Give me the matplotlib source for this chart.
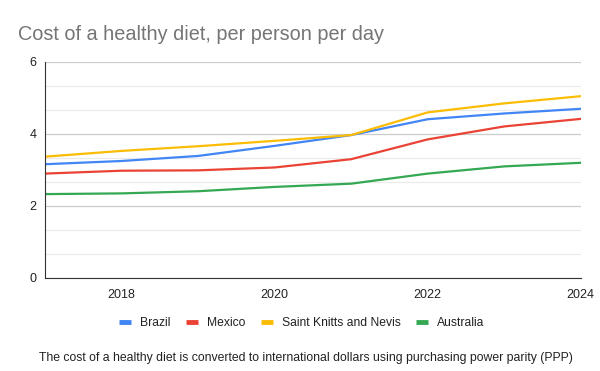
import numpy as np
import matplotlib.pyplot as plt
from matplotlib.ticker import MultipleLocator

plt.rcParams['font.family'] = ['Liberation Sans', 'DejaVu Sans']

# Data
years = [2017, 2018, 2019, 2020, 2021, 2022, 2023, 2024]
brazil = [3.16, 3.25, 3.39, 3.67, 3.97, 4.41, 4.57, 4.70]
mexico = [2.90, 2.98, 2.99, 3.07, 3.30, 3.85, 4.21, 4.42]
skn = [3.37, 3.53, 3.66, 3.81, 3.97, 4.60, 4.85, 5.05]
australia = [2.33, 2.35, 2.41, 2.53, 2.62, 2.90, 3.10, 3.20]

series = [
    ("Brazil", brazil, "#4285F4"),
    ("Mexico", mexico, "#EA4335"),
    ("Saint Knitts and Nevis", skn, "#FBBC04"),
    ("Australia", australia, "#34A853"),
]

fig = plt.figure(figsize=(6, 3.71), dpi=100)
ax = fig.add_axes([0.075, 0.2507, 0.893, 0.5822])

for name, vals, col in series:
    ax.plot(years, vals, color=col, lw=1.6, label=name, solid_capstyle='round')

ax.set_xlim(2017, 2024)
ax.set_ylim(0, 6)
ax.set_xticks([2018, 2020, 2022, 2024])
ax.set_yticks([0, 2, 4, 6])
ax.yaxis.set_minor_locator(MultipleLocator(2 / 3))
ax.grid(axis='y', which='major', color='#cccccc', lw=0.9)
ax.grid(axis='y', which='minor', color='#ebebeb', lw=0.9)
ax.set_axisbelow(True)
ax.tick_params(axis='both', which='both', length=0, labelsize=9, colors='#222222')
ax.tick_params(axis='x', pad=8)
ax.tick_params(axis='y', pad=6)
for s in ['top', 'right']:
    ax.spines[s].set_visible(False)
ax.spines['left'].set_color('#333333')
ax.spines['bottom'].set_color('#333333')

fig.text(0.03, 0.893, "Cost of a healthy diet, per person per day",
         fontsize=14.3, color='#757575')

leg = fig.legend(loc='center', bbox_to_anchor=(0.503, 0.13), ncol=4, frameon=False,
                 fontsize=8.7, handlelength=1.0, handletextpad=0.7, columnspacing=1.32)
for h in leg.get_lines():
    h.set_linewidth(3.5)
    h.set_solid_capstyle('butt')
for t in leg.get_texts():
    t.set_color('#222222')

fig.text(0.51, 0.028, "The cost of a healthy diet is converted to international dollars "
         "using purchasing power parity (PPP)", ha='center', fontsize=8.8, color='#222222')

fig.savefig('out.png', dpi=100)
